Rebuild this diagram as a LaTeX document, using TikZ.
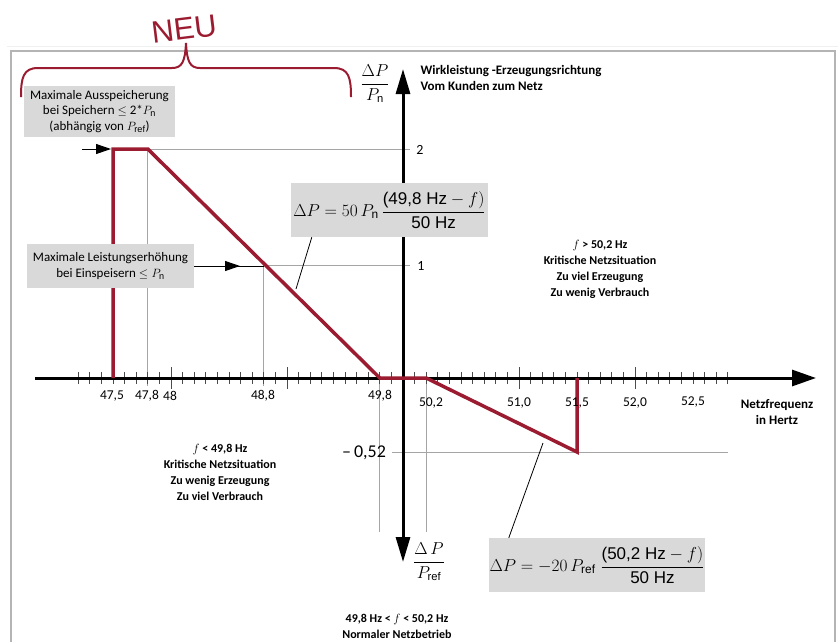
\documentclass[tikz,border=0pt]{standalone}
\usepackage{amsmath}
\usepackage[no-math]{fontspec}
\setmainfont{Carlito}
\newfontfamily\arialf{Liberation Sans}
\usetikzlibrary{arrows.meta}
\definecolor{redc}{RGB}{155,27,48}
\definecolor{boxgray}{RGB}{217,217,217}
\definecolor{gridgray}{RGB}{165,165,165}
\definecolor{framegray}{RGB}{180,180,180}
\newcommand{\sfsub}[1]{\text{\arialf #1}}
\begin{document}
\begin{tikzpicture}[x=1pt,y=-1pt,
  graybox/.style={fill=boxgray, inner sep=0pt, align=center, font=\fontsize{13}{15.5}\selectfont},
  formbox/.style={fill=boxgray, inner sep=0pt, minimum height=54pt, font=\fontsize{17}{20}\selectfont},
  gridline/.style={draw=gridgray, line width=0.8pt},
  redline/.style={draw=redc, line width=3.5pt, line join=miter},
  tickline/.style={draw=black!70, line width=0.7pt},
  boldtxt/.style={font=\bfseries\fontsize{12}{16}\selectfont, align=center},
  ticklbl/.style={font=\fontsize{13.5}{15}\selectfont, inner sep=0pt},
  leader/.style={draw=black, line width=0.8pt},
  fracl/.style={font=\fontsize{16}{19}\selectfont, inner sep=0pt}]
\useasboundingbox (0,0) rectangle (838,641);
% frame
\draw[gray!12, line width=0.8pt] (7,46) -- (838,46);
\draw[framegray, line width=1.5pt] (11,645) -- (11,51) -- (835,51) -- (835,645);
% coordinates of the characteristic
\coordinate (p475b) at (113,378);
\coordinate (p475t) at (113,149);
\coordinate (p478) at (147.8,149);
\coordinate (p498) at (379.8,378);
\coordinate (p502) at (426.2,378);
\coordinate (p515b) at (577,452);
\coordinate (p515t) at (577,378);
\coordinate (p488) at (263.8,265);
% grid lines
\draw[gridline] (p478) -- (410,149);
\draw[gridline] (p478) -- (147.8,386);
\draw[gridline] (p488) -- (410,265);
\draw[gridline] (p488) -- (263.8,386);
\draw[gridline] (379.8,372) -- (379.8,532);
\draw[gridline] (426.2,372) -- (426.2,532);
\draw[gridline] (392,452) -- (728,452);
% ticks
\foreach \i in {0,...,56}{
  \pgfmathsetmacro\xx{78.2+\i*11.6}
  \pgfmathtruncatemacro\mm{mod(\i+2,10)}
  \ifnum\i=28\relax\else
    \ifnum\mm=0\relax
      \draw[tickline] (\xx,367) -- (\xx,389);
    \else
      \draw[tickline] (\xx,372) -- (\xx,384);
    \fi
  \fi
}
% axes
\coordinate (axL) at (35,378);
\coordinate (axR) at (816,378);
\coordinate (axT) at (403,69);
\coordinate (axB) at (403,562);
\draw[line width=3pt, -{Triangle[length=24pt,width=16pt]}] (axL) -- (axR);
\draw[line width=3pt, {Triangle[length=25pt,width=14pt]}-{Triangle[length=25pt,width=14pt]}] (axB) -- (axT);
% red characteristic
\draw[redline] (p475b) -- (p475t) -- (p478) -- (p498) -- (p502) -- (p515b) -- (p515t);
% tick labels
\node[ticklbl] (l475) at (112,396) {47,5};
\node[ticklbl] (l478) at (147,396) {47,8};
\node[ticklbl] (l48) at (170,396) {48};
\node[ticklbl] (l488) at (263,396) {48,8};
\node[ticklbl] (l498) at (380,396) {49,8};
\node[ticklbl] (l502) at (431,403) {50,2};
\node[ticklbl] (l510) at (519,403) {51,0};
\node[ticklbl] (l515) at (577,403) {51,5};
\node[ticklbl] (l520) at (635,403) {52,0};
\node[ticklbl] (l525) at (693,402) {52,5};
\node[font=\fontsize{14}{16}\selectfont, inner sep=0pt] (y2) at (420,150) {2};
\node[font=\fontsize{14}{16}\selectfont, inner sep=0pt] (y1) at (421,266) {1};
\node[font=\fontsize{18}{20}\selectfont, inner sep=0pt] (ym) at (364,453) {\textendash\,0,52};
% axis labels
\node[fracl] (fracT) at (375,84) {$\dfrac{\Delta P}{P_{\sfsub{n}}}$};
\node[fracl] (fracB) at (429,562) {$\dfrac{\Delta\,P}{P_{\sfsub{ref}}}$};
\node[boldtxt, font=\bfseries\fontsize{13}{16}\selectfont, align=left, anchor=west] (wirk) at (417,77.5) {Wirkleistung -Erzeugungsrichtung\\Vom Kunden zum Netz};
\node[boldtxt, font=\bfseries\fontsize{13}{16}\selectfont] (netzf) at (777,412) {Netzfrequenz\\in Hertz};
\node[boldtxt] (over) at (600,269) {$f$ > 50,2 Hz\\Kritische Netzsituation\\Zu viel Erzeugung\\Zu wenig Verbrauch};
\node[boldtxt] (under) at (220,472) {$f$ < 49,8 Hz\\Kritische Netzsituation\\Zu wenig Erzeugung\\Zu viel Verbrauch};
\node[boldtxt] (normal) at (397,626) {49,8 Hz < $f$ < 50,2 Hz\\Normaler Netzbetrieb};
% gray info boxes
\node[graybox, minimum width=151pt, minimum height=51pt] (box1) at (99.5,111.5)
  {Maximale Ausspeicherung\\bei Speichern $\le$ 2*$P_{\sfsub{n}}$\\(abhängig von $P_{\sfsub{ref}}$)};
\node[graybox, minimum width=167pt, minimum height=44pt] (box2) at (110.5,266)
  {Maximale Leistungserhöhung\\bei Einspeisern $\le P_{\sfsub{n}}$};
% formula boxes
\node[formbox, minimum width=197pt] (fb1) at (389.5,210)
  {$\Delta P = 50\,P_{\sfsub{n}}\,\dfrac{\text{\arialf (49,8 Hz}-f)}{\text{\arialf 50 Hz}}$};
\node[formbox, minimum width=216pt] (fb2) at (597,565)
  {$\Delta P = -20\,P_{\sfsub{ref}}\;\dfrac{\text{\arialf (50,2 Hz}-f)}{\text{\arialf 50 Hz}}$};
% leaders
\coordinate (ld1) at (296,289);
\coordinate (ld2) at (543,443);
\draw[leader] (fb1.south west) ++(21,0) -- (ld1);
\draw[leader] (fb2.north west) ++(20,0) -- (ld2);
% arrows from info boxes
\coordinate (a1s) at (82,149);
\coordinate (a1e) at (111,149);
\draw[line width=1pt, -{Triangle[length=15pt,width=10pt]}] (a1s) -- (a1e);
\coordinate (a2m) at (240,266);
\draw[line width=1pt] (box2.east) -- (p488 |- box2.east);
\draw[line width=1pt, -{Triangle[length=15pt,width=10pt]}] (box2.east) -- (a2m);
% brace and NEU
\draw[redc, line width=2pt] (21,97) .. controls (21,78) and (23,68) .. (38,68) -- (172,68)
  .. controls (182,68) and (185,62) .. (186,43) .. controls (187,62) and (190,68) .. (200,68)
  -- (334,68) .. controls (349,68) and (351,78) .. (351,97);
\node[redc, rotate=7, font=\arialf\fontsize{31}{33}\selectfont, inner sep=0pt] (neu) at (184,29) {NEU};
\end{tikzpicture}
\end{document}
